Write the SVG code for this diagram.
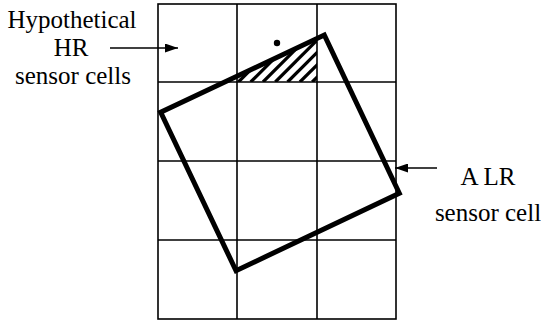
<svg xmlns="http://www.w3.org/2000/svg" width="541" height="324" viewBox="0 0 541 324">
<defs>
<marker id="ah" markerWidth="13" markerHeight="9" refX="13" refY="4.5" orient="auto" markerUnits="userSpaceOnUse">
<path d="M0,0 L13,4.5 L0,9 Z" fill="#000"/>
</marker>
<clipPath id="hc"><polygon points="237,76.2 317,38.4 317,82 237,82"/></clipPath>
</defs>
<rect width="541" height="324" fill="#fff"/>
<g id="hr-grid" stroke="#000" stroke-width="1.6" fill="none">
<rect x="158" y="4" width="238" height="315"/>
<line x1="237" y1="4" x2="237" y2="319"/>
<line x1="317" y1="4" x2="317" y2="319"/>
<line x1="158" y1="82" x2="396" y2="82"/>
<line x1="158" y1="161" x2="396" y2="161"/>
<line x1="158" y1="240" x2="396" y2="240"/>
</g>
<g id="overlap-hatch" clip-path="url(#hc)" stroke="#000" stroke-width="3.2">
<line x1="238.4" y1="82" x2="288.4" y2="32"/>
<line x1="250.7" y1="82" x2="300.7" y2="32"/>
<line x1="263" y1="82" x2="313" y2="32"/>
<line x1="275.3" y1="82" x2="325.3" y2="32"/>
<line x1="287.6" y1="82" x2="337.6" y2="32"/>
<line x1="299.9" y1="82" x2="349.9" y2="32"/>
<line x1="312.2" y1="82" x2="362.2" y2="32"/>
</g>
<g id="hr-center-dot"><circle cx="277" cy="43" r="3.2" fill="#000"/></g>
<g id="lr-cell">
<polygon points="324.3,35 399.3,193.3 236,270.7 160.7,112.3" fill="none" stroke="#000" stroke-width="5"/>
</g>
<g id="label-hr" font-family="'Liberation Serif', serif" font-size="25" text-anchor="middle" fill="#000">
<text x="72" y="28">Hypothetical</text>
<text x="71" y="56">HR</text>
<text x="73" y="84">sensor cells</text>
</g>
<g id="label-lr" font-family="'Liberation Serif', serif" font-size="25" text-anchor="middle" fill="#000">
<text x="488" y="185">A LR</text>
<text x="488" y="221">sensor cell</text>
</g>
<g id="connectors" stroke="#000" stroke-width="1.6" fill="none">
<line x1="110" y1="48" x2="178" y2="48" marker-end="url(#ah)"/>
<line x1="437" y1="168" x2="395" y2="168" marker-end="url(#ah)"/>
</g>
</svg>
